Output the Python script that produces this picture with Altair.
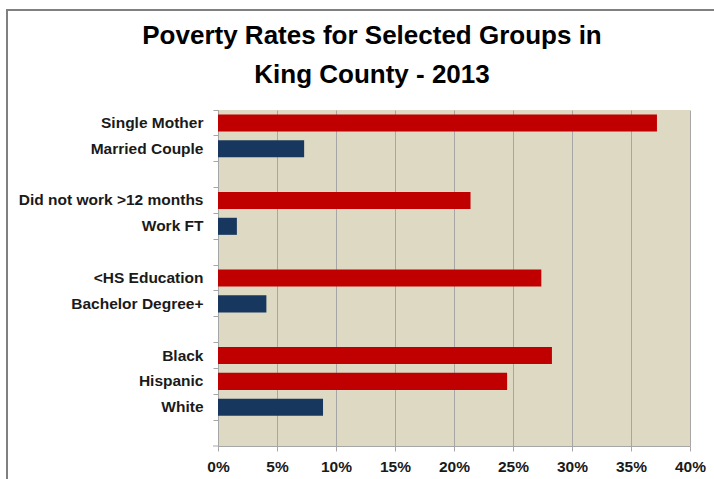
import altair as alt
import pandas as pd

categories = ["Single Mother", "Married Couple", "_gap1",
              "Did not work >12 months", "Work FT", "_gap2",
              "<HS Education", "Bachelor Degree+", "_gap3",
              "Black", "Hispanic", "White", "_gap4"]
rates = [37.2, 7.3, None, 21.4, 1.6, None, 27.4, 4.1, None, 28.3, 24.5, 8.9, None]
groups = ["high", "low", "", "high", "low", "", "high", "low", "", "high", "high", "low", ""]
x_ticks = [0, 0.05, 0.10, 0.15, 0.20, 0.25, 0.30, 0.35, 0.40]
title_lines = ["Poverty Rates for Selected Groups in", "King County - 2013"]

df = pd.DataFrame({
    "category": categories,
    "rate": [None if v is None else v / 100 for v in rates],
    "group": groups,
})
bars_df = df.dropna(subset=["rate"])

W, H = 472, 336
PAD = {"left": 218, "top": 110, "right": 24, "bottom": 33}
LABEL_SIZE = 15.5

bars = alt.Chart(bars_df).mark_bar(height={"band": 0.66}).encode(
    x=alt.X("rate:Q",
            scale=alt.Scale(domain=[0, 0.4], nice=False),
            axis=alt.Axis(values=x_ticks, format=".0%", title=None,
                          grid=True, gridColor="#A6A6A6", gridWidth=1,
                          domainColor="#A6A6A6", tickColor="#A6A6A6", tickSize=5,
                          labelFont="Liberation Sans", labelFontSize=LABEL_SIZE,
                          labelFontWeight="bold", labelColor="#1a1a1a",
                          labelFlush=False, labelPadding=8)),
    y=alt.Y("category:N",
            scale=alt.Scale(domain=categories, paddingInner=0, paddingOuter=0),
            axis=alt.Axis(title=None, bandPosition=0, tickSize=5,
                          tickColor="#A6A6A6", domainColor="#A6A6A6",
                          labelExpr="indexof(datum.label, '_gap') == 0 ? '' : datum.label",
                          labelFont="Liberation Sans", labelFontSize=LABEL_SIZE,
                          labelFontWeight="bold", labelColor="#1a1a1a",
                          labelLimit=260, labelPadding=10)),
    color=alt.Color("group:N",
                    scale=alt.Scale(domain=["high", "low"], range=["#C00000", "#17375E"]),
                    legend=None),
)

one = pd.DataFrame({"a": [0]})
title1 = alt.Chart(one).mark_text(
    text=title_lines[0], font="Liberation Sans", fontSize=26, fontWeight="bold",
    color="#000000", align="center", baseline="alphabetic").encode(
    x=alt.value(154), y=alt.value(-66))
title2 = alt.Chart(one).mark_text(
    text=title_lines[1], font="Liberation Sans", fontSize=26, fontWeight="bold",
    color="#000000", align="center", baseline="alphabetic").encode(
    x=alt.value(154), y=alt.value(-27))

# decorative frame lines and bottom-left tick
frame_top = alt.Chart(one).mark_rule(color="#808080", strokeWidth=2).encode(
    x=alt.value(-212), x2=alt.value(W + PAD["right"]), y=alt.value(-100))
frame_left = alt.Chart(one).mark_rule(color="#808080", strokeWidth=2).encode(
    x=alt.value(-211), y=alt.value(-101), y2=alt.value(H + PAD["bottom"]))
last_tick = alt.Chart(one).mark_rule(color="#A6A6A6", strokeWidth=1).encode(
    x=alt.value(-5), x2=alt.value(0), y=alt.value(H))

chart = alt.layer(bars, title1, title2, frame_top, frame_left, last_tick).properties(
    width=W, height=H,
    autosize=alt.AutoSizeParams(type="none"),
    padding=PAD,
    background="white",
).configure_view(fill="#DDD9C3", stroke=None)

chart.save("out.html", embed_options={"renderer": "svg", "actions": False})
